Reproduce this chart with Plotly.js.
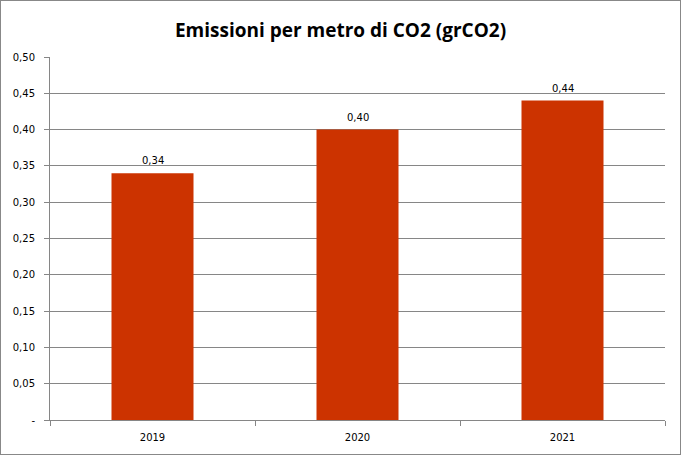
<!DOCTYPE html>
<html><head><meta charset="utf-8">
<script src="https://cdn.plot.ly/plotly-3.0.1.min.js"></script>
<style>html,body{margin:0;padding:0;background:#fff}#c{width:679px;height:453px;border:1px solid #888}</style>
</head><body><div id="c"></div>
<script>
const categories = ['2019', '2020', '2021'];
const values = [0.34, 0.40, 0.44];
const valueLabels = ['0,34', '0,40', '0,44'];
const yTickVals = [0, 0.05, 0.10, 0.15, 0.20, 0.25, 0.30, 0.35, 0.40, 0.45, 0.50];
const yTickText = ['-', '0,05', '0,10', '0,15', '0,20', '0,25', '0,30', '0,35', '0,40', '0,45', '0,50'];
const titleText = 'Emissioni per metro di CO2 (grCO2)';

Plotly.newPlot('c', [{
  type: 'bar', x: categories, y: values,
  marker: {color: '#CC3300'},
  hoverinfo: 'none'
}], {
  width: 679, height: 453,
  margin: {l: 49, r: 15, t: 56, b: 34},
  bargap: 0.6,
  paper_bgcolor: '#fff', plot_bgcolor: '#fff',
  separators: ',.',
  title: {text: '<b>' + titleText + '</b>', x: 0.5, xanchor: 'center', y: 0.935, yanchor: 'middle',
          font: {family: 'Open Sans', size: 19, color: '#000'}},
  annotations: categories.map((c, i) => ({
    x: i, y: values[i], xref: 'x', yref: 'y', text: valueLabels[i],
    showarrow: false, yanchor: 'bottom', yshift: 5,
    font: {family: 'DejaVu Sans', size: 10, color: '#000'}
  })),
  xaxis: {type: 'category', range: [-0.5, 2.5], showline: true, linecolor: '#868686', linewidth: 1,
          ticks: 'outside', tickson: 'boundaries', ticklen: 5, tickcolor: '#868686',
          ticklabelstandoff: 8,
          showgrid: false, tickfont: {family: 'DejaVu Sans', size: 10, color: '#000'}},
  yaxis: {range: [0, 0.5], tickvals: yTickVals, ticktext: yTickText,
          showline: true, linecolor: '#868686', ticks: 'outside', ticklen: 5, tickcolor: '#868686',
          ticklabelstandoff: 7,
          showgrid: true, gridcolor: '#868686', gridwidth: 1, zeroline: false,
          tickfont: {family: 'DejaVu Sans', size: 10, color: '#000'}},
  showlegend: false
}, {displayModeBar: false, staticPlot: true});
</script></body></html>
